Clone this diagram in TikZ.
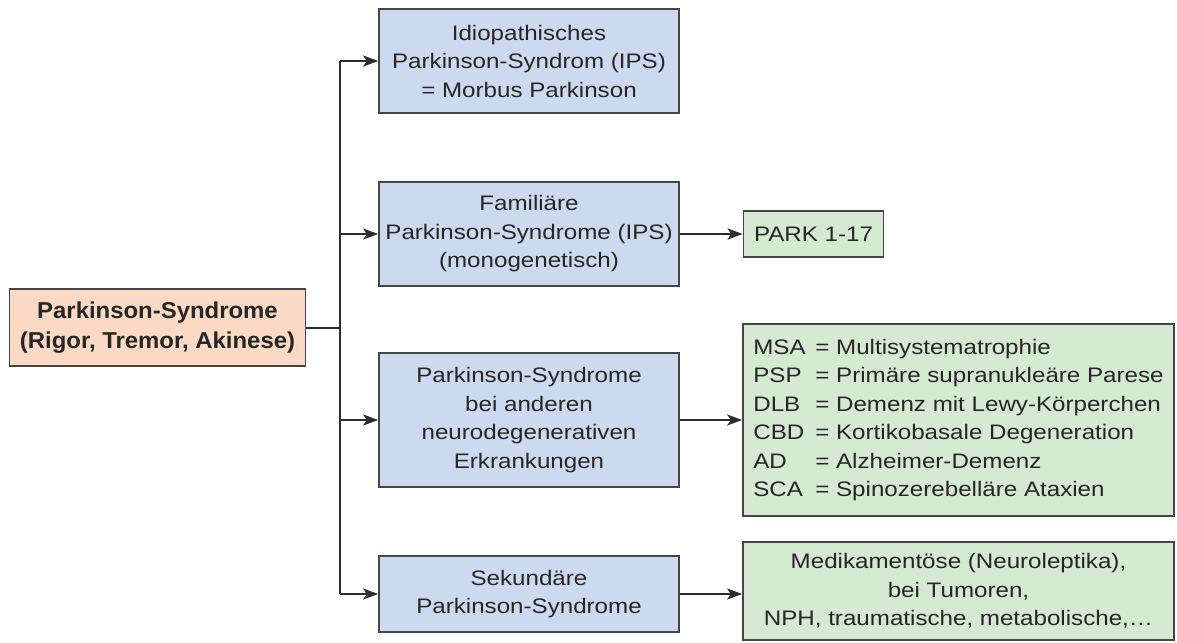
\documentclass[tikz,border=0pt]{standalone}
\usepackage{fontspec}
\setmainfont{Liberation Sans}[FakeStretch=1.15]
\newfontfamily\rootfont{Liberation Sans}[FakeStretch=1.04]
\usetikzlibrary{arrows.meta,positioning}

\definecolor{rootfill}{RGB}{252,217,196}
\definecolor{typefill}{RGB}{205,217,238}
\definecolor{causefill}{RGB}{213,233,211}
\definecolor{framegray}{RGB}{70,70,70}
\definecolor{linegray}{RGB}{45,45,45}

\begin{document}
\begin{tikzpicture}[
    x=1pt, y=-1pt,
    rootnode/.style={draw=framegray, line width=1.7pt, fill=rootfill, inner sep=0pt, align=center,
        minimum width=296pt, minimum height=77pt, text=black!85,
        font=\rootfont\bfseries\fontsize{23}{30}\selectfont},
    typenode/.style={draw=framegray, line width=1.7pt, fill=typefill, inner sep=0pt, align=center,
        minimum width=300pt, text=black!85, font=\fontsize{21}{28.5}\selectfont},
    causenode/.style={draw=framegray, line width=1.7pt, fill=causefill, inner sep=0pt, align=center,
        text=black!85, font=\fontsize{21}{28.5}\selectfont},
    link/.style={line width=2pt, draw=linegray},
    linkarrow/.style={link, -{Stealth[length=15pt, width=11pt, inset=3.5pt]}}
]
\useasboundingbox (0,0) rectangle (1177,642);

% Root
\node[rootnode] (root) at (157.5,327.5) {Parkinson-Syndrome\\(Rigor, Tremor, Akinese)};

% Types of Parkinson syndromes
\node[typenode, minimum height=104pt] (ips) at (529,61) {Idiopathisches\\Parkinson-Syndrom (IPS)\\= Morbus Parkinson};
\node[typenode, minimum height=104pt] (fam) at (529,234) {Familiäre\\Parkinson-Syndrome (IPS)\\(monogenetisch)};
\node[typenode, minimum height=134pt] (neuro) at (529,420) {Parkinson-Syndrome\\bei anderen\\neurodegenerativen\\Erkrankungen};
\node[typenode, minimum height=76pt] (sek) at (529,594) {Sekundäre\\Parkinson-Syndrome};

% Details
\node[causenode, minimum width=140pt, minimum height=46pt] (park) at (813.5,234) {PARK 1-17};
\node[causenode, minimum width=431pt, minimum height=192pt] (atyp) at (958.5,420) {%
    \begin{tabular}{@{}p{62pt}@{}l@{}}
    MSA & = Multisystematrophie\\
    PSP & = Primäre supranukleäre Parese\\
    DLB & = Demenz mit Lewy-Körperchen\\
    CBD & = Kortikobasale Degeneration\\
    AD  & = Alzheimer-Demenz\\
    SCA & = Spinozerebelläre Ataxien
    \end{tabular}};
\node[causenode, minimum width=431pt, minimum height=98pt] (ursache) at (958.5,591) {Medikamentöse (Neuroleptika),\\bei Tumoren,\\NPH, traumatische, metabolische,…};

% Connectors
\coordinate (trunk) at (340,327.5);
\draw[link] (root.east) -- (trunk);
\draw[link] (ips.west -| trunk) -- (sek.west -| trunk);
\foreach \b in {ips,fam,neuro,sek} {
    \draw[linkarrow] (\b.west -| trunk) -- (\b.west);
}
\draw[linkarrow] (fam.east) -- (park.west);
\draw[linkarrow] (neuro.east) -- (atyp.west);
\draw[linkarrow] (sek.east) -- (sek.east -| ursache.west);

\end{tikzpicture}
\end{document}
